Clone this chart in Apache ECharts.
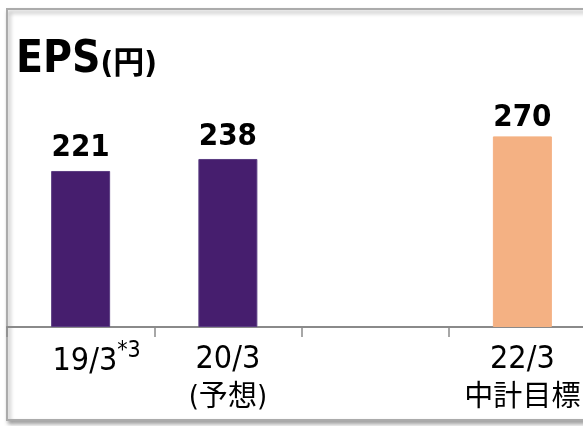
<!DOCTYPE html>
<html>
<head>
<meta charset="utf-8">
<script src="https://cdn.jsdelivr.net/npm/echarts@6/dist/echarts.min.js"></script>
<style>
  html, body { margin: 0; padding: 0; background: #fff; overflow: hidden; }
  #chart { width: 600px; height: 426px; }
</style>
</head>
<body>
<div id="chart"></div>
<script>
// EPS (円)
var periods = ['19/3', '20/3', '21/3', '22/3']
var notes = ['', '(予想)', '', '中計目標']
var eps = [221, 238, null, 270]
var labelGap = [8, 7, 3, 3]

var purple = '#461E6E'
var orange = '#F4B183'
var latin = '"DejaVu Sans Condensed", "DejaVu Sans", sans-serif'
var mixed = '"DejaVu Sans Condensed", "Noto Sans CJK JP", sans-serif'

var myChart = echarts.init(document.getElementById('chart'))

var option = {
  animation: false,
  graphic: [
    {
      type: 'rect',
      z: -10,
      shape: { x: 7, y: 9, width: 620, height: 411 },
      style: {
        fill: '#fff',
        stroke: '#ababab',
        lineWidth: 2,
        shadowBlur: 4,
        shadowOffsetX: 2,
        shadowOffsetY: 3,
        shadowColor: 'rgba(0,0,0,0.35)'
      }
    },
    {
      type: 'text',
      left: 16,
      top: 39,
      style: {
        text: '{a|EPS}{b|(円)}',
        rich: {
          a: { fontFamily: latin, fontWeight: 'bold', fontSize: 44, fill: '#000' },
          b: { fontFamily: mixed, fontWeight: 'bold', fontSize: 31, fill: '#000', padding: [8, 0, 0, 0] }
        }
      }
    }
  ],
  grid: { left: 7, width: 589, top: 44.6, height: 327 - 44.6 },
  xAxis: {
    type: 'category',
    data: periods,
    axisLine: { lineStyle: { color: '#8a8a8a', width: 2 } },
    axisTick: { show: true, length: 10, lineStyle: { color: '#8a8a8a', width: 1.5 } },
    axisLabel: {
      margin: 13,
      interval: 0,
      color: '#000',
      formatter: function (v, i) {
        if (i === 0) return '{sp|}{n|' + v + '}{sup|*3}'
        if (i === 2) return ''
        return '{n|' + v + '}\n{c|' + notes[i] + '}'
      },
      rich: {
        n: { fontFamily: latin, fontSize: 32, lineHeight: 39, color: '#000' },
        c: { fontFamily: mixed, fontSize: 29, lineHeight: 39, color: '#000' },
        sp: { width: 32 },
        sup: { fontFamily: latin, fontSize: 23, color: '#000', verticalAlign: 'top', padding: [0, 0, 20, 0] }
      }
    }
  },
  yAxis: { type: 'value', min: 0, max: 400, show: false },
  series: [
    {
      type: 'bar',
      barWidth: 59,
      data: eps.map(function (v, i) {
        return {
          value: v,
          label: { distance: labelGap[i] },
          itemStyle: {
            color: i === 3 ? orange : purple,
            borderColor: i === 3 ? orange : '#5B3D82',
            borderWidth: 1
          }
        }
      }),
      label: {
        show: true,
        position: 'top',
        fontFamily: latin,
        fontWeight: 'bold',
        fontSize: 31,
        color: '#000'
      }
    }
  ]
}

myChart.setOption(option)
</script>
</body>
</html>
